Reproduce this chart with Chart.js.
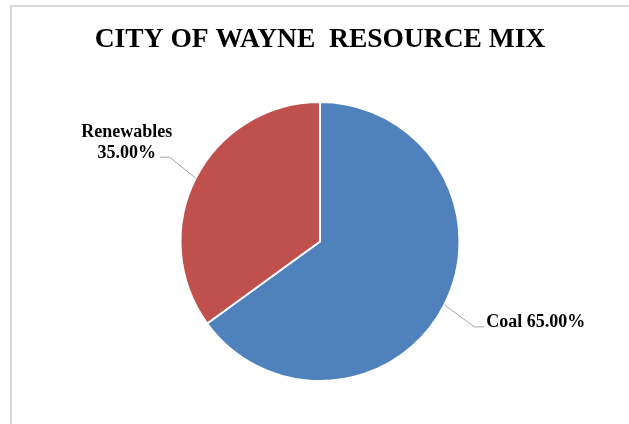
<!DOCTYPE html>
<html>
<head>
<meta charset="utf-8">
<script src="https://cdn.jsdelivr.net/npm/chart.js@4/dist/chart.umd.min.js"></script>
<style>
  html, body { margin: 0; padding: 0; background: #fff; }
  #wrap { width: 629px; height: 424px; position: relative; }
</style>
</head>
<body>
<div id="wrap"><canvas id="chart"></canvas></div>
<script>
const categories = ["Coal", "Renewables"];
const shares = [65, 35];
const sliceColors = ["#4F81BD", "#C0504D"];

const serif = "'Times New Roman', 'Liberation Serif', serif";

// grey frame around the chart (top and left edges are visible)
const framePlugin = {
  id: "frame",
  beforeDraw(chart) {
    const ctx = chart.ctx;
    ctx.save();
    ctx.strokeStyle = "#d9d9d9";
    ctx.lineWidth = 2;
    ctx.strokeRect(11, 6, 700, 500);
    ctx.restore();
  }
};

// data labels with leader lines, excel style
const leaderLabels = {
  id: "leaderLabels",
  afterDraw(chart) {
    const ctx = chart.ctx;
    const meta = chart.getDatasetMeta(0);
    ctx.save();
    ctx.font = "bold 18px " + serif;
    ctx.fillStyle = "#000";
    ctx.strokeStyle = "#a6a6a6";
    ctx.lineWidth = 1;
    meta.data.forEach((arc, i) => {
      const mid = (arc.startAngle + arc.endAngle) / 2;
      const ex = arc.x + Math.cos(mid) * arc.outerRadius;
      const ey = arc.y + Math.sin(mid) * arc.outerRadius;
      const pct = shares[i].toFixed(2) + "%";
      ctx.beginPath();
      if (Math.cos(mid) < 0) {
        const bx = ex - 26, by = ey - 21;
        ctx.moveTo(ex, ey);
        ctx.lineTo(bx, by);
        ctx.lineTo(bx - 10, by);
        ctx.stroke();
        ctx.textAlign = "center";
        ctx.textBaseline = "middle";
        ctx.fillText(categories[i], bx - 43, by - 25);
        ctx.fillText(pct, bx - 43, by - 4);
      } else {
        const bx = ex + 30, by = ey + 22;
        ctx.moveTo(ex, ey);
        ctx.lineTo(bx, by);
        ctx.lineTo(bx + 10, by);
        ctx.stroke();
        ctx.textAlign = "left";
        ctx.textBaseline = "middle";
        ctx.fillText(categories[i] + " " + pct, bx + 12, by - 4);
      }
    });
    ctx.restore();
  }
};

new Chart(document.getElementById("chart"), {
  type: "pie",
  data: {
    labels: categories,
    datasets: [{
      data: shares,
      backgroundColor: sliceColors,
      borderColor: "#fff",
      borderWidth: 2
    }]
  },
  options: {
    responsive: true,
    maintainAspectRatio: false,
    animation: false,
    layout: { padding: { left: 11, right: 0, top: 0, bottom: 42 } },
    plugins: {
      legend: { display: false },
      tooltip: { enabled: false },
      title: {
        display: true,
        text: "CITY OF WAYNE  RESOURCE MIX",
        color: "#000",
        font: { family: serif, size: 27.5, weight: "bold", lineHeight: 1.2 },
        padding: { top: 23, bottom: 45 }
      }
    }
  },
  plugins: [framePlugin, leaderLabels]
});
</script>
</body>
</html>
